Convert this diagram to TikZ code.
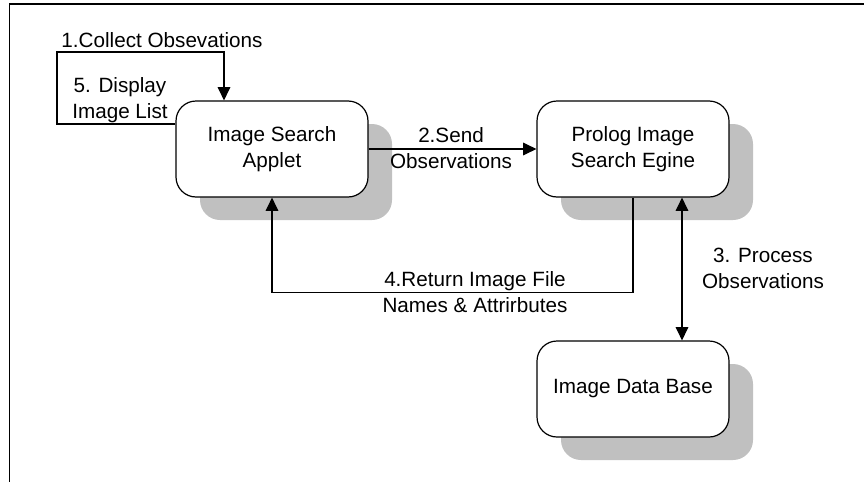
\documentclass[tikz,border=0pt]{standalone}
\usepackage{fontspec}
\setmainfont{Liberation Sans}
\usetikzlibrary{arrows.meta,shadows}
\definecolor{shadowgray}{RGB}{192,192,192}

\begin{document}
\begin{tikzpicture}[x=0.75pt,y=0.75pt,yscale=-1,xscale=1,
  proc/.style={draw, line width=0.9pt, fill=white, rounded corners=15pt,
    minimum width=144pt, minimum height=72pt, align=center, inner sep=0pt,
    font=\fontsize{15.5}{19.5}\selectfont,
    general shadow={fill=shadowgray, shadow xshift=18pt, shadow yshift=-17.25pt}},
  lbl/.style={align=center, inner sep=0pt, font=\fontsize{15.5}{19.5}\selectfont},
  tip/.style={Triangle[length=10pt,width=9.5pt]},
  flow/.style={line width=0.9pt, -{Triangle[length=10pt,width=9.5pt]}}]
\useasboundingbox (0,0) rectangle (864,482);

% frame
\draw [line width=1.5pt] (9,4) -- (864,4) ;
\draw [line width=0.75pt] (9,4) -- (9,482) ;

% Process boxes
\node [proc] (applet) at (272,149) {Image Search\\Applet};
\node [proc] (engine) at (633,149) {Prolog Image\\Search Egine};
\node [proc] (database) at (633,389) {Image Data Base};

% 1./5. loop
\coordinate (loopsw) at (57,124);
\coordinate (loopnw) at (57,52);
\draw [flow] (applet.west |- loopsw) -- (loopsw) -- (loopnw) -| ([shift={(-48,0)}]applet.north) ;

% 2. send
\draw [flow] (applet.east) -- (engine.west) ;

% 3. process
\draw [line width=0.9pt, {Triangle[length=10pt,width=9.5pt]}-{Triangle[length=10pt,width=9.5pt]}]
  ([shift={(49,0)}]engine.south) -- ([shift={(49,0)}]engine.south |- database.north) ;

% 4. return
\draw [flow] (engine.south) -- ++(0,95) -| (applet.south) ;

% Text Node
\node [lbl] (lblcollect) at (162,40) {1.Collect Obsevations};
% Text Node
\node [lbl] (lbldisplay) at (120,100) {5. Display\\Image List};
% Text Node
\node [lbl] (lblsend) at (451,148) {2.Send\\Observations};
% Text Node
\node [lbl] (lblreturn) at (475,292) {4.Return Image File\\Names \& Attrirbutes};
% Text Node
\node [lbl] (lblprocess) at (763,268) {3. Process\\Observations};

\end{tikzpicture}
\end{document}
